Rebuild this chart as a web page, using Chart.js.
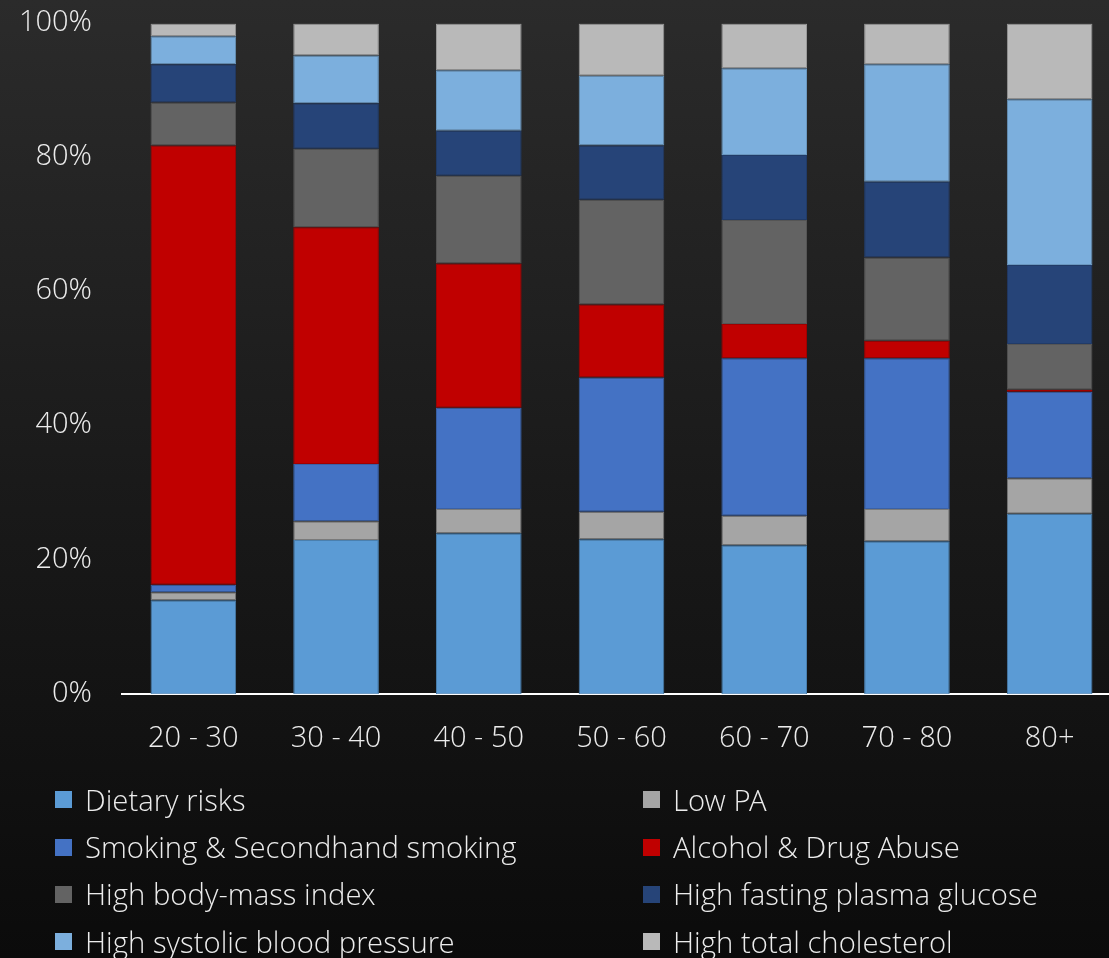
<!DOCTYPE html>
<html>
<head>
<meta charset="utf-8">
<script src="https://cdn.jsdelivr.net/npm/chart.js@4"></script>
<style>
    html, body {
        margin: 0;
        padding: 0;
        width: 1109px;
        height: 958px;
        overflow: hidden;
        background: linear-gradient(to bottom, #2b2b2b 0%, #1a1a1a 50%, #0b0b0b 100%);
        font-family: "Open Sans Light", "Open Sans", sans-serif;
        font-weight: 300;
    }
    #chartBox {
        position: absolute;
        left: 0;
        top: -24px;
        width: 1121px;
        height: 809px;
    }
    #legend {
        position: absolute;
        left: 55px;
        top: 776px;
        display: grid;
        grid-template-columns: 588px 460px;
        row-gap: 0;
    }
    .item {
        display: flex;
        align-items: center;
        height: 47.4px;
        color: #ececec;
        font-size: 29.3px;
        white-space: nowrap;
    }
    .swatch {
        width: 17px;
        height: 17px;
        margin-right: 13px;
        flex: none;
    }
</style>
</head>
<body>
<div id="chartBox"><canvas id="chartContainer"></canvas></div>
<div id="legend"></div>

<script>
// Age groups and risk-factor shares (% of total per group)
const ageGroups = ['20 - 30', '30 - 40', '40 - 50', '50 - 60', '60 - 70', '70 - 80', '80+'];
const yTicks = [0, 20, 40, 60, 80, 100];

const dietary     = [14.0, 23.0, 24.0, 23.1, 22.2, 22.8, 26.9];
const lowPA       = [1.2, 2.8, 3.6, 4.1, 4.4, 4.8, 5.3];
const smoking     = [1.1, 8.5, 15.1, 20.0, 23.5, 22.5, 12.9];
const alcohol     = [65.5, 35.3, 21.5, 10.9, 5.1, 2.6, 0.3];
const bmi         = [6.4, 11.7, 13.1, 15.6, 15.5, 12.4, 6.8];
const glucose     = [5.7, 6.8, 6.7, 8.1, 9.7, 11.3, 11.8];
const bloodPress  = [4.2, 7.1, 9.0, 10.4, 12.9, 17.5, 24.7];
const cholesterol = [1.9, 4.8, 7.0, 7.8, 6.7, 6.1, 11.3];

const series = [
    { label: 'Dietary risks', data: dietary, color: '#5b9bd5', edge: '#4a7fae' },
    { label: 'Low PA', data: lowPA, color: '#a5a5a5', edge: '#7a7a7a' },
    { label: 'Smoking & Secondhand smoking', data: smoking, color: '#4472c4', edge: '#3a61a6' },
    { label: 'Alcohol & Drug Abuse', data: alcohol, color: '#c00000', edge: '#a00000' },
    { label: 'High body-mass index', data: bmi, color: '#636363', edge: '#555555' },
    { label: 'High fasting plasma glucose', data: glucose, color: '#264478', edge: '#213b68' },
    { label: 'High systolic blood pressure', data: bloodPress, color: '#7cafdd', edge: '#6a97bf' },
    { label: 'High total cholesterol', data: cholesterol, color: '#b9b9b9', edge: '#9a9a9a' }
];

const textColor = '#ececec';
const tickFont = { family: '"Open Sans Light", "Open Sans", sans-serif', size: 29, weight: 300 };
let chart;

renderChart();
renderLegend();

function renderChart() {
    const ctx = document.getElementById('chartContainer').getContext('2d');
    chart = new Chart(ctx, {
        type: 'bar',
        data: {
            labels: ageGroups,
            datasets: series.map(s => ({
                label: s.label,
                data: s.data,
                backgroundColor: s.color,
                borderColor: s.edge,
                borderWidth: 1,
                borderSkipped: false,
                barPercentage: 0.6,
                categoryPercentage: 1
            }))
        },
        options: {
            responsive: true,
            maintainAspectRatio: false,
            animation: false,
            layout: { padding: { top: 8, right: 0, bottom: 0, left: 0 } },
            plugins: {
                legend: { display: false },
                tooltip: { enabled: false }
            },
            scales: {
                x: {
                    stacked: true,
                    grid: { display: false, drawTicks: false },
                    border: { display: true, color: '#ffffff', width: 2 },
                    ticks: { color: textColor, font: tickFont, padding: 28 }
                },
                y: {
                    stacked: true,
                    min: 0,
                    max: 100,
                    afterBuildTicks: scale => {
                        scale.ticks = yTicks.map(v => ({ value: v }));
                    },
                    afterFit: scale => {
                        scale.width = 122;
                    },
                    grid: { display: false, drawTicks: false },
                    border: { display: false },
                    ticks: {
                        color: textColor,
                        font: tickFont,
                        padding: 30,
                        callback: v => v + '%'
                    }
                }
            }
        }
    });
}

// Two-column legend under the plot
function renderLegend() {
    const box = document.getElementById('legend');
    series.forEach(s => {
        const item = document.createElement('div');
        item.className = 'item';
        const sw = document.createElement('span');
        sw.className = 'swatch';
        sw.style.background = s.color;
        const txt = document.createElement('span');
        txt.textContent = s.label;
        item.appendChild(sw);
        item.appendChild(txt);
        box.appendChild(item);
    });
}
</script>
</body>
</html>
